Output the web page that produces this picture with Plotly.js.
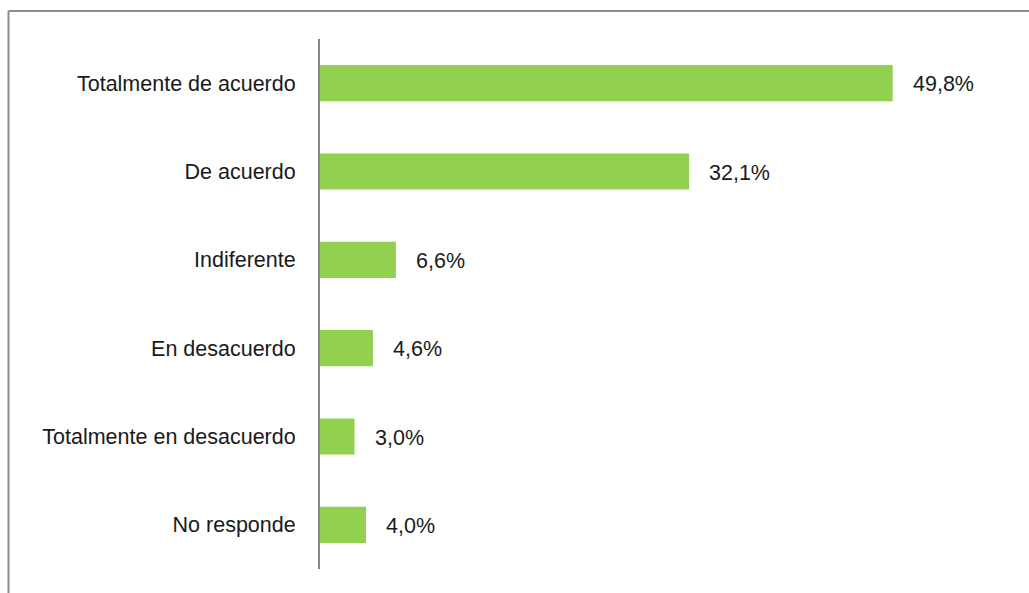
<!DOCTYPE html>
<html>
<head>
<meta charset="utf-8">
<script src="https://cdn.plot.ly/plotly-3.0.1.min.js"></script>
<style>
html,body{margin:0;padding:0;background:#fff;}
#chart{width:1029px;height:593px;}
</style>
</head>
<body>
<div id="chart"></div>
<script>
const categories = ["Totalmente de acuerdo", "De acuerdo", "Indiferente", "En desacuerdo", "Totalmente en desacuerdo", "No responde"];
const values = [49.8, 32.1, 6.6, 4.6, 3.0, 4.0];
const valueLabels = ["49,8%", "32,1%", "6,6%", "4,6%", "3,0%", "4,0%"];

const FONT = "'Liberation Sans Narrow', 'Arial Narrow', 'Liberation Sans', Arial, sans-serif";
const W = 1029, H = 593;
const M = {l: 320, r: 29, t: 39, b: 24};
const pw = W - M.l - M.r, ph = H - M.t - M.b;
const px = x => (x - M.l) / pw;
const py = y => 1 - (y - M.t) / ph;

const trace = {
  type: 'bar',
  orientation: 'h',
  y: categories,
  x: values,
  marker: {color: '#92D050'},
  hoverinfo: 'none'
};

const annotations = categories.map((c, i) => ({
  x: values[i], y: c, xref: 'x', yref: 'y',
  text: valueLabels[i], showarrow: false,
  xanchor: 'left', yanchor: 'middle', xshift: 18, yshift: -1,
  font: {family: FONT, size: 21.5, color: '#1a1a1a'}
}));

const layout = {
  width: W, height: H,
  margin: M,
  paper_bgcolor: '#fff', plot_bgcolor: '#fff',
  showlegend: false,
  bargap: 0.59,
  xaxis: {range: [0, pw / 11.5], visible: false, fixedrange: true},
  yaxis: {
    autorange: 'reversed', showline: true, linecolor: '#868686', linewidth: 2,
    showgrid: false, zeroline: false,
    ticks: 'outside', ticklen: 18, tickcolor: 'rgba(0,0,0,0)',
    tickfont: {family: FONT, size: 21.5, color: '#1a1a1a'},
    fixedrange: true
  },
  annotations: annotations,
  shapes: [
    {type: 'line', xref: 'paper', yref: 'paper', x0: px(8.5), x1: px(1029), y0: py(11), y1: py(11), line: {color: '#8c8c8c', width: 2}},
    {type: 'line', xref: 'paper', yref: 'paper', x0: px(8.5), x1: px(8.5), y0: py(11), y1: py(593), line: {color: '#8c8c8c', width: 2}}
  ]
};

Plotly.newPlot('chart', [trace], layout, {staticPlot: true, displayModeBar: false});
</script>
</body>
</html>
